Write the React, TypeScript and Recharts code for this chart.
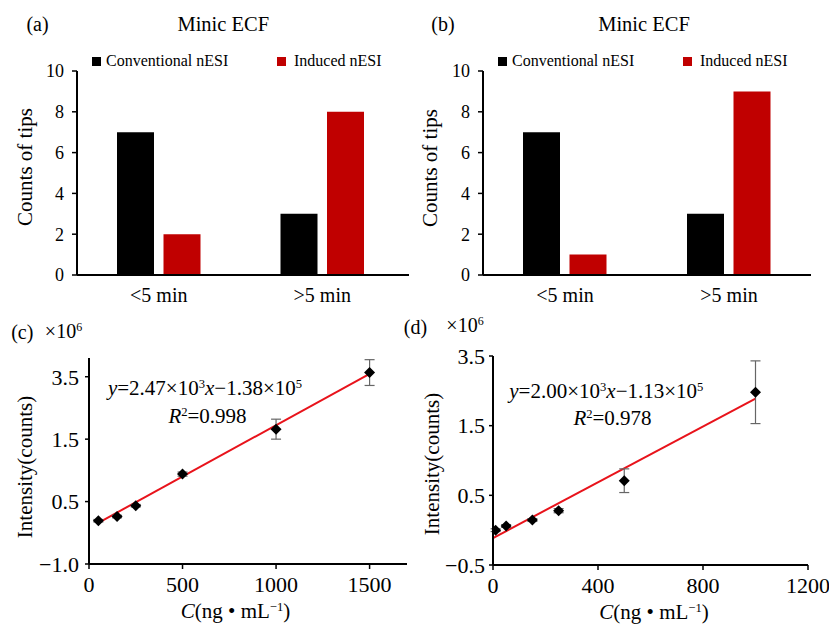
import React from 'react';
import {
  BarChart,
  Bar,
  XAxis,
  YAxis,
  Legend,
  ComposedChart,
  Scatter,
  Line,
  ErrorBar,
} from 'recharts';

// ---------- data ----------
const categories = ['<5 min', '>5 min'];
const conventionalA = [7, 3];
const inducedA = [2, 8];
const conventionalB = [7, 3];
const inducedB = [1, 9];
const barTicks = [0, 2, 4, 6, 8, 10];

const concC = [50, 150, 250, 500, 1000, 1500];
const intensityC = [0.04, 0.14, 0.4, 1.16, 2.24, 3.6];
const errorC = [0.03, 0.03, 0.03, 0.05, 0.24, 0.31];
const fitXC = [50, 1500];
const fitYC = [-0.01, 3.57];
const xTicksC = [0, 500, 1000, 1500];
const yTicksC = [-1, 0.5, 2, 3.5];
const yTickLabelsC = ['\u22121.0', '0.5', '1.5', '3.5'];

const concD = [10, 50, 150, 250, 500, 1000];
const intensityD = [0.0, 0.06, 0.145, 0.28, 0.71, 1.98];
const errorD = [0.02, 0.02, 0.02, 0.03, 0.17, 0.45];
const fitXD = [0, 1000];
const fitYD = [-0.113, 1.887];
const xTicksD = [0, 400, 800, 1200];
const yTicksD = [-0.5, 0.5, 1.5, 2.5];
const yTickLabelsD = ['\u22120.5', '0.5', '1.5', '3.5'];

const seriesNames = ['Conventional nESI', 'Induced nESI'];

// ---------- derived tables ----------
const barDataA = categories.map((c, i) => ({ cat: c, conv: conventionalA[i], ind: inducedA[i] }));
const barDataB = categories.map((c, i) => ({ cat: c, conv: conventionalB[i], ind: inducedB[i] }));
const pointsC = concC.map((x, i) => ({ x, y: intensityC[i], err: errorC[i] }));
const pointsD = concD.map((x, i) => ({ x, y: intensityD[i], err: errorD[i] }));
const fitC = fitXC.map((x, i) => ({ x, y: fitYC[i] }));
const fitD = fitXD.map((x, i) => ({ x, y: fitYD[i] }));

const FONT = '"Liberation Serif", "Times New Roman", Times, serif';
const RED = '#c00000';
const LINE_RED = '#e8131b';

const LegendContent = (props: any) => {
  const payload = props.payload || [];
  return (
    <div style={{ position: 'relative', height: 18, width: 380, fontFamily: FONT }}>
      {payload.map((p: any, i: number) => (
        <div
          key={i}
          style={{
            position: 'absolute',
            left: i * 185,
            top: 0,
            height: 18,
            display: 'flex',
            alignItems: 'center',
            whiteSpace: 'nowrap',
          }}
        >
          <span
            style={{
              display: 'inline-block',
              width: 9,
              height: 9,
              background: p.color,
              marginRight: i === 0 ? 5 : 8,
            }}
          />
          <span style={{ fontSize: 16, lineHeight: '18px', color: '#000' }}>{p.value}</span>
        </div>
      ))}
    </div>
  );
};

const Diamond = (props: any) => {
  const { cx, cy } = props;
  if (cx == null || cy == null) return null;
  const r = 5.5;
  return (
    <polygon
      points={`${cx},${cy - r} ${cx + r},${cy} ${cx},${cy + r} ${cx - r},${cy}`}
      fill="#000"
    />
  );
};

const axisLine = { stroke: '#000', strokeWidth: 2 };
const tickLine = { stroke: '#000', strokeWidth: 1.5 };

function BarPanel(props: {
  left: number;
  width: number;
  data: any[];
  margin: any;
  padRight: number;
  legendLeft: number;
}) {
  const { left, width, data, margin, padRight, legendLeft } = props;
  return (
    <div style={{ position: 'absolute', left, top: 0, width, height: 310 }}>
      <BarChart width={width} height={310} data={data} margin={margin} barGap={9.5} barSize={37}>
        <XAxis
          dataKey="cat"
          height={30}
          tickLine={false}
          tickSize={5}
          tickMargin={8}
          axisLine={axisLine}
          padding={{ left: 0, right: padRight }}
          tick={{ fontSize: 20, fill: '#000', fontFamily: FONT }}
        />
        <YAxis
          width={40}
          domain={[0, 10]}
          ticks={barTicks}
          interval={0}
          tickSize={5}
          tickMargin={8}
          axisLine={axisLine}
          tickLine={tickLine}
          tick={{ fontSize: 18, fill: '#000', fontFamily: FONT }}
        />
        <Legend
          layout="horizontal"
          verticalAlign="middle"
          align="center"
          content={LegendContent}
          wrapperStyle={{ left: legendLeft, top: 52, width: 380 }}
        />
        <Bar dataKey="conv" name={seriesNames[0]} fill="#000" isAnimationActive={false} />
        <Bar dataKey="ind" name={seriesNames[1]} fill={RED} isAnimationActive={false} />
      </BarChart>
    </div>
  );
}

function ScatterPanel(props: {
  left: number;
  width: number;
  margin: any;
  points: any[];
  fit: any[];
  xDomain: number[];
  xTicks: number[];
  yDomain: number[];
  yTicks: number[];
  yLabels: string[];
  yTickMargin: number;
}) {
  const { left, width, margin, points, fit, xDomain, xTicks, yDomain, yTicks, yLabels, yTickMargin } = props;
  return (
    <div style={{ position: 'absolute', left, top: 310, width, height: 316 }}>
      <ComposedChart width={width} height={316} margin={margin}>
        <XAxis
          dataKey="x"
          type="number"
          domain={xDomain}
          ticks={xTicks}
          interval={0}
          height={30}
          tickSize={5}
          tickMargin={7}
          axisLine={axisLine}
          tickLine={tickLine}
          allowDataOverflow
          tick={{ fontSize: 22, fill: '#000', fontFamily: FONT }}
        />
        <YAxis
          dataKey="y"
          type="number"
          width={50}
          domain={yDomain}
          ticks={yTicks}
          interval={0}
          tickSize={4}
          tickMargin={yTickMargin}
          axisLine={axisLine}
          tickLine={tickLine}
          allowDataOverflow
          tickFormatter={(v: number, i: number) => yLabels[i] ?? String(v)}
          tick={{ fontSize: 22, fill: '#000', fontFamily: FONT }}
        />
        <Line
          data={fit}
          dataKey="y"
          stroke={LINE_RED}
          strokeWidth={2}
          dot={false}
          activeDot={false}
          isAnimationActive={false}
        />
        <Scatter data={points} dataKey="y" shape={Diamond} isAnimationActive={false}>
          <ErrorBar dataKey="err" direction="y" width={5} stroke="#666" strokeWidth={1.2} />
        </Scatter>
      </ComposedChart>
    </div>
  );
}

function T(props: {
  x: number;
  y: number;
  size: number;
  rotate?: boolean;
  children: any;
}) {
  const { x, y, size, rotate, children } = props;
  return (
    <div
      style={{
        position: 'absolute',
        left: x,
        top: y,
        fontSize: size,
        lineHeight: 1,
        whiteSpace: 'nowrap',
        color: '#000',
        transform: `translate(-50%, -50%)${rotate ? ' rotate(-90deg)' : ''}`,
      }}
    >
      {children}
    </div>
  );
}

const supStyle: React.CSSProperties = { fontSize: '0.6em', verticalAlign: '0.55em', lineHeight: 0 };

export default function App() {
  return (
    <div
      style={{
        position: 'absolute',
        left: 0,
        top: 0,
        width: 829,
        height: 626,
        background: '#fff',
        fontFamily: FONT,
        overflow: 'hidden',
      }}
    >
      <BarPanel
        left={0}
        width={415}
        data={barDataA}
        margin={{ top: 71, right: 6, bottom: 5, left: 37 }}
        padRight={5}
        legendLeft={92}
      />
      <BarPanel
        left={415}
        width={414}
        data={barDataB}
        margin={{ top: 71, right: 18, bottom: 5, left: 28 }}
        padRight={0}
        legendLeft={83}
      />
      <ScatterPanel
        left={0}
        width={415}
        margin={{ top: 48, right: 8, bottom: 32, left: 39 }}
        points={pointsC}
        fit={fitC}
        xDomain={[0, 1700]}
        xTicks={xTicksC}
        yDomain={[-1, 3.95]}
        yTicks={yTicksC}
        yLabels={yTickLabelsC}
        yTickMargin={6}
      />
      <ScatterPanel
        left={415}
        width={414}
        margin={{ top: 46, right: 21, bottom: 31, left: 28 }}
        points={pointsD}
        fit={fitD}
        xDomain={[0, 1200]}
        xTicks={xTicksD}
        yDomain={[-0.5, 2.5]}
        yTicks={yTicksD}
        yLabels={yTickLabelsD}
        yTickMargin={4}
      />

      {/* panel (a) */}
      <T x={37.5} y={24} size={20}>(a)</T>
      <T x={223.3} y={24} size={20.5}>Minic ECF</T>
      <T x={25} y={167} size={21}>
        <span style={{ display: 'inline-block', transform: 'rotate(-90deg)' }}>Counts of tips</span>
      </T>

      {/* panel (b) */}
      <T x={443} y={24} size={20}>(b)</T>
      <T x={644} y={24} size={20.5}>Minic ECF</T>
      <T x={430} y={168} size={21}>
        <span style={{ display: 'inline-block', transform: 'rotate(-90deg)' }}>Counts of tips</span>
      </T>

      {/* panel (c) */}
      <T x={22.3} y={332} size={20}>(c)</T>
      <T x={63.5} y={331} size={20}>
        ×10<span style={supStyle}>6</span>
      </T>
      <T x={25} y={467} size={21} rotate>Intensity(counts)</T>
      <T x={205} y={388} size={21}>
        <i>y</i>=2.47×10<span style={supStyle}>3</span>
        <i>x</i>−1.38×10<span style={supStyle}>5</span>
      </T>
      <T x={207.5} y={416} size={21}>
        <i>R</i>
        <span style={supStyle}>2</span>=0.998
      </T>
      <T x={235.5} y={611} size={21}>
        <i>C</i>(ng • mL<span style={supStyle}>−1</span>)
      </T>

      {/* panel (d) */}
      <T x={415.5} y={327} size={20}>(d)</T>
      <T x={465} y={325} size={20}>
        ×10<span style={supStyle}>6</span>
      </T>
      <T x={431.7} y={464} size={21} rotate>Intensity(counts)</T>
      <T x={606.3} y={391} size={21}>
        <i>y</i>=2.00×10<span style={supStyle}>3</span>
        <i>x</i>−1.13×10<span style={supStyle}>5</span>
      </T>
      <T x={612.5} y={418} size={21}>
        <i>R</i>
        <span style={supStyle}>2</span>=0.978
      </T>
      <T x={654} y={612} size={21}>
        <i>C</i>(ng • mL<span style={supStyle}>−1</span>)
      </T>
    </div>
  );
}
